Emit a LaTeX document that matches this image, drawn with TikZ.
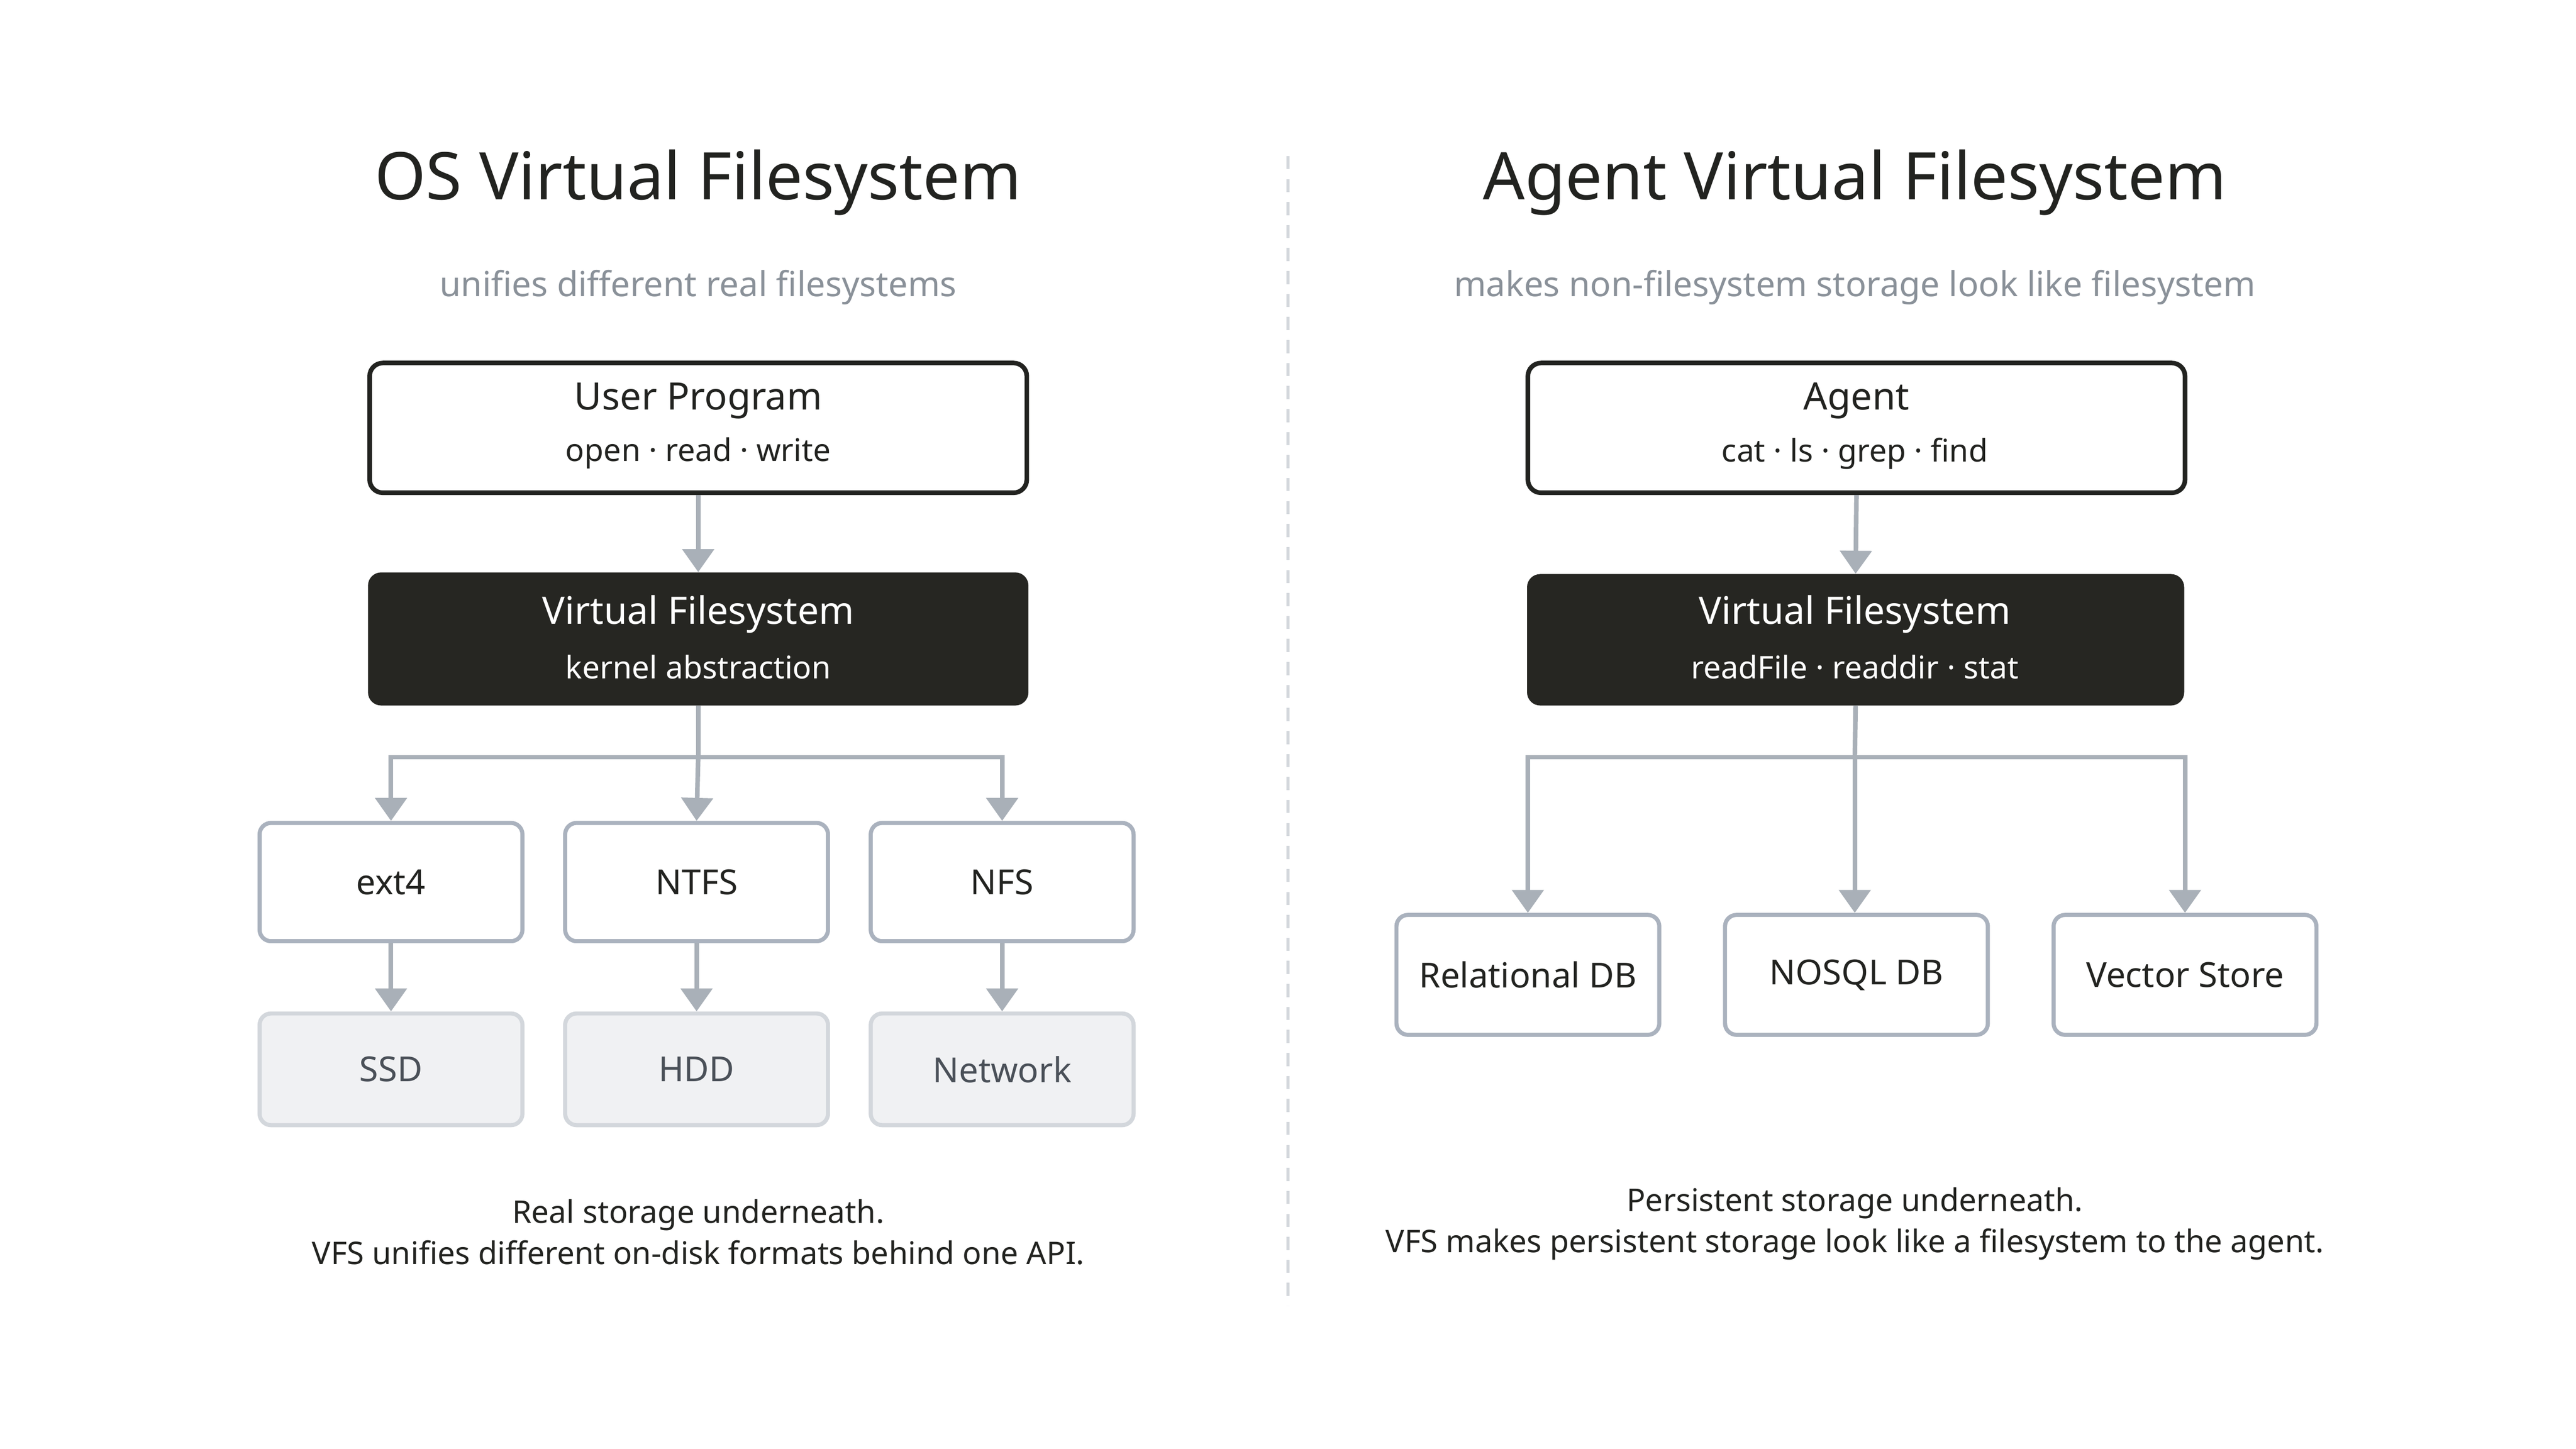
\documentclass[tikz,border=0pt]{standalone}
\usepackage{fontspec}
\setmainfont{Noto Sans}
\usetikzlibrary{arrows.meta}
\definecolor{ink}{HTML}{222320}
\definecolor{dark}{HTML}{262622}
\definecolor{conn}{HTML}{A9B0B8}
\definecolor{sub}{HTML}{8A9199}
\definecolor{gbord}{HTML}{AAB2BE}
\definecolor{lbord}{HTML}{D3D7DC}
\definecolor{lfill}{HTML}{F0F1F3}
\definecolor{ltext}{HTML}{4A5058}
\begin{document}
\begin{tikzpicture}[x=1pt,y=-1pt,
 title/.style={font=\fontsize{40}{48}\selectfont\bfseries,text=ink},
 subt/.style={font=\fontsize{21}{26}\selectfont,text=sub},
 top/.style={draw=ink,line width=2.8pt,rounded corners=8pt,fill=white,minimum width=400pt,minimum height=79pt,align=center,inner sep=0pt},
 vfs/.style={fill=dark,rounded corners=8pt,minimum width=402pt,minimum height=81pt,align=center,text=white,inner sep=0pt},
 fs/.style={draw=gbord,line width=2.5pt,rounded corners=7pt,fill=white,minimum width=160pt,minimum height=72pt,font=\fontsize{21}{26}\selectfont\bfseries,text=ink,inner sep=0pt},
 dev/.style={draw=lbord,line width=2.5pt,rounded corners=7pt,fill=lfill,minimum width=160pt,minimum height=68pt,font=\fontsize{21}{26}\selectfont,text=ltext,inner sep=0pt},
 hd/.style={font=\fontsize{23}{28}\selectfont\bfseries},
 sm/.style={font=\fontsize{19}{24}\selectfont},
 captxt/.style={font=\fontsize{19}{25}\selectfont,text=ink,align=center},
 arr/.style={draw=conn,line width=2.8pt,-{Triangle[width=19pt,length=14pt]}},
 ln/.style={draw=conn,line width=2.8pt}]
\useasboundingbox (0,0) rectangle (1568,882);
\fill[white] (0,0) rectangle (1568,882);
\coordinate (d1) at (784,95); \coordinate (d2) at (784,795);
\draw[lbord,line width=2pt,dash pattern=on 8pt off 6pt] (d1) -- (d2);
% left
\node[title] (t1) at (425,111) {OS Virtual Filesystem};
\node[subt] (s1) at (425,175) {unifies different real filesystems};
\node[top] (up) at (425,260.5) {};
\node[hd,text=ink] (upa) at (425,244) {User Program};
\node[sm,text=ink] (upb) at (425,276) {open · read · write};
\node[vfs] (v1) at (425,389) {};
\node[hd,text=white] (v1a) at (425,374) {Virtual Filesystem};
\node[sm,text=white] (v1b) at (425,406) {kernel abstraction};
\draw[arr] (up.south) -- (v1.north);
\node[fs] (e4) at (238,537) {ext4};
\node[fs] (nt) at (424,537) {NTFS};
\node[fs] (nf) at (610,537) {NFS};
\node[dev] (ssd) at (238,651) {SSD};
\node[dev] (hdd) at (424,651) {HDD};
\node[dev] (net) at (610,651) {Network};
\coordinate (b1) at (425,461);
\draw[ln] (v1.south) -- (b1);
\draw[arr] (b1) -| (e4.north);
\draw[arr] (b1) -- (nt.north);
\draw[arr] (b1) -| (nf.north);
\draw[arr] (e4) -- (ssd);
\draw[arr] (nt) -- (hdd);
\draw[arr] (nf) -- (net);
\node[captxt] (c1) at (425,750) {Real storage underneath.\\VFS unifies different on-disk formats behind one API.};
% right
\node[title] (t2) at (1129,111) {Agent Virtual Filesystem};
\node[subt] (s2) at (1129,175) {makes non-filesystem storage look like filesystem};
\node[top] (ag) at (1130,260.5) {};
\node[hd,text=ink] (aga) at (1130,244) {Agent};
\node[sm,text=ink] (agb) at (1129,276) {cat · ls · grep · find};
\node[vfs,minimum width=400pt,minimum height=80pt] (v2) at (1129.5,389.5) {};
\node[hd,text=white] (v2a) at (1129,374) {Virtual Filesystem};
\node[sm,text=white] (v2b) at (1129,406) {readFile · readdir · stat};
\draw[arr] (ag.south) -- (v2.north);
\node[fs,minimum height=73pt] (rdb) at (930,593.5) {Relational DB};
\node[fs,minimum height=73pt] (ndb) at (1130,593.5) {NOSQL DB};
\node[fs,minimum height=73pt] (vs) at (1330,593.5) {Vector Store};
\coordinate (b2) at (1129,461);
\draw[ln] (v2.south) -- (b2);
\draw[arr] (b2) -| (rdb.north);
\draw[arr] (b2) -- (b2 |- ndb.north);
\draw[arr] (b2) -| (vs.north);
\node[captxt] (c2) at (1129,745) {Persistent storage underneath.\\VFS makes persistent storage look like a filesystem to the agent.};
\end{tikzpicture}
\end{document}
